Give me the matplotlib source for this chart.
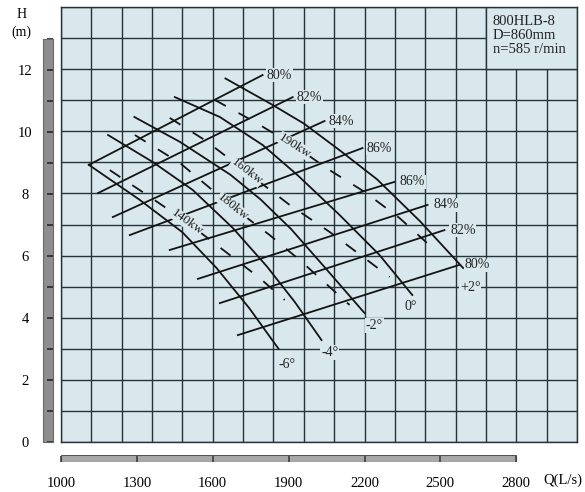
import math
import matplotlib
matplotlib.use('Agg')
import matplotlib.pyplot as plt
from matplotlib.patches import Rectangle

plt.rcParams['font.family'] = ['Liberation Serif', 'DejaVu Serif']

# axis scales
q_ticks = [1000, 1300, 1600, 1900, 2200, 2500, 2800]
h_ticks = [0, 2, 4, 6, 8, 10, 12]
h_minor = list(range(0, 14))
q_grid = list(range(1000, 3041, 120))
h_grid = list(range(0, 15))

# H-Q curves for each blade angle
hq_q_m6 = [1110, 1310, 1480, 1615, 1745, 1860]
hq_h_m6 = [8.92, 7.8, 6.75, 5.6, 4.3, 3.0]
hq_q_m4 = [1186, 1363, 1521, 1679, 1813, 1924, 2030]
hq_h_m4 = [9.88, 9.01, 8.11, 6.89, 5.66, 4.51, 3.28]
hq_q_m2 = [1290, 1470, 1670, 1790, 1910, 2045, 2200]
hq_h_m2 = [10.46, 9.66, 8.6, 7.8, 6.85, 5.6, 4.15]
hq_q_0 = [1450, 1628, 1797, 1935, 2101, 2259, 2389]
hq_h_0 = [11.10, 10.46, 9.56, 8.59, 7.31, 6.02, 4.73]
hq_q_p2 = [1650, 1830, 1960, 2100, 2250, 2420, 2590]
hq_h_p2 = [11.7, 10.88, 10.25, 9.4, 8.45, 7.1, 5.6]
angle_labels = ['-6°', '-4°', '-2°', '0°', '+2°']

# efficiency lines
eff_up_labels = ['80%', '82%', '84%', '86%']
eff_up_q0 = [1110, 1146, 1205, 1272]
eff_up_h0 = [8.92, 8.01, 7.24, 6.66]
eff_up_q1 = [1797, 1916, 2042, 2192]
eff_up_h1 = [11.81, 11.10, 10.33, 9.46]
eff_lo_labels = ['86%', '84%', '82%', '80%']
eff_lo_q0 = [1430, 1541, 1628, 1699]
eff_lo_h0 = [6.18, 5.25, 4.47, 3.44]
eff_lo_q1 = [2318, 2449, 2516, 2575]
eff_lo_h1 = [8.37, 7.63, 6.82, 5.70]

# shaft power curves (dashed)
pw_q_140 = [1193, 1351, 1497, 1667, 1785, 1884]
pw_h_140 = [8.75, 7.89, 7.08, 6.02, 5.28, 4.57]
pw_q_180 = [1292, 1470, 1679, 1825, 1943, 2062, 2141]
pw_h_180 = [9.88, 8.98, 7.56, 6.66, 5.86, 4.99, 4.41]
pw_q_160 = [1430, 1568, 1734, 1904, 2062, 2200, 2299]
pw_h_160 = [10.43, 9.72, 8.69, 7.63, 6.76, 5.92, 5.31]
pw_q_190 = [1608, 1766, 1924, 2062, 2200, 2338, 2456]
pw_h_190 = [11.01, 10.30, 9.53, 8.75, 8.05, 7.21, 6.34]
pw_labels = ['140kw', '180kw', '160kw', '190kw']

info_text = '800HLB-8\nD=860mm\nn=585 r/min'

bg = '#d9e8ec'
gridc = '#26343a'
ink = '#141414'

W, H = 585, 492


def box(x0, y0, x1, y1):
    return [x0 / W, 1 - y1 / H, (x1 - x0) / W, (y1 - y0) / H]


fig = plt.figure(figsize=(W / 100, H / 100), dpi=100)

# main chart
ax = fig.add_axes(box(61, 7, 577, 442))
ax.set_xlim(q_grid[0], q_grid[-1])
ax.set_ylim(h_grid[0], h_grid[-1])
ax.set_facecolor(bg)
ax.set_xticks(q_grid)
ax.set_yticks(h_grid)
ax.tick_params(length=0, labelbottom=False, labelleft=False)
ax.grid(True, color=gridc, lw=1.0)
for s in ax.spines.values():
    s.set_color(gridc)
    s.set_linewidth(1.0)

# info box in the corner (grid erased)
ax.add_patch(Rectangle((q_grid[-4], h_grid[-3]), q_grid[-1] - q_grid[-4],
                       h_grid[-1] - h_grid[-3], fc=bg, ec=gridc, lw=1.0,
                       zorder=1.8))
ax.text(0.837, 0.982, info_text, transform=ax.transAxes, ha='left', va='top',
        fontsize=10.5, linespacing=1.1, color='#222222', zorder=4)

lab_box = dict(fc=bg, ec='none', pad=0.6)

hq_curves = [(hq_q_m6, hq_h_m6), (hq_q_m4, hq_h_m4), (hq_q_m2, hq_h_m2),
             (hq_q_0, hq_h_0), (hq_q_p2, hq_h_p2)]
angle_offsets = [(6, -11), (6, -9), (7, -9), (-1, -8), (5, -14)]
for (qs, hs), lab, off in zip(hq_curves, angle_labels, angle_offsets):
    ax.plot(qs, hs, color=ink, lw=1.3, zorder=3)
    ax.annotate(lab, (qs[-1], hs[-1]), xytext=off, textcoords='offset points',
                ha='center', va='center', fontsize=10, color='#222222',
                bbox=lab_box, zorder=4)

for q0, h0, q1, h1, lab in zip(eff_up_q0, eff_up_h0, eff_up_q1, eff_up_h1,
                               eff_up_labels):
    ax.plot([q0, q1], [h0, h1], color=ink, lw=1.3, zorder=3)
    ax.annotate(lab, (q1, h1), xytext=(3, 0), textcoords='offset points',
                ha='left', va='center', fontsize=10, color='#222222',
                bbox=lab_box, zorder=4)

for q0, h0, q1, h1, lab in zip(eff_lo_q0, eff_lo_h0, eff_lo_q1, eff_lo_h1,
                               eff_lo_labels):
    ax.plot([q0, q1], [h0, h1], color=ink, lw=1.3, zorder=3)
    ax.annotate(lab, (q1, h1), xytext=(4, 0), textcoords='offset points',
                ha='left', va='center', fontsize=10, color='#222222',
                bbox=lab_box, zorder=4)

pw_curves = [(pw_q_140, pw_h_140), (pw_q_180, pw_h_180),
             (pw_q_160, pw_h_160), (pw_q_190, pw_h_190)]
for (qs, hs), lab in zip(pw_curves, pw_labels):
    ax.plot(qs, hs, color=ink, lw=1.3, ls=(0, (7, 8)), zorder=3)
    i = 2
    p = ax.transData.transform([(qs[i - 1], hs[i - 1]), (qs[i + 1], hs[i + 1])])
    ang = math.degrees(math.atan2(p[1][1] - p[0][1], p[1][0] - p[0][0]))
    ax.text(qs[i], hs[i], lab, rotation=ang, rotation_mode='anchor',
            ha='center', va='center', fontsize=9.5, color='#222222',
            bbox=dict(fc=bg, ec='none', pad=0.2), zorder=4)

# H scale bar on the left
ax_y = fig.add_axes(box(43, 39, 53, 442))
ax_y.set_ylim(h_minor[0], h_minor[-1])
ax_y.set_xlim(0, 1)
ax_y.set_facecolor('#8e8e8e')
for s in ax_y.spines.values():
    s.set_color('#6a6a6a')
    s.set_linewidth(0.8)
ax_y.set_xticks([])
ax_y.set_yticks(h_ticks)
ax_y.set_yticks(h_minor, minor=True)
ax_y.tick_params(which='both', left=False, right=True, direction='in',
                 length=4, width=1.3, color='#303030', labelsize=10.5,
                 pad=13)
for t in ax_y.get_yticklabels():
    t.set_horizontalalignment('center')
fig.text(22 / W, 1 - 15 / H, 'H', ha='center', va='center', fontsize=10)
fig.text(21 / W, 1 - 32 / H, '(m)', ha='center', va='center', fontsize=10)

# Q scale bar at the bottom
ax_x = fig.add_axes(box(61, 455, 577, 462))
ax_x.set_xlim(q_grid[0], q_grid[-1])
ax_x.set_ylim(0, 1)
ax_x.axvspan(q_ticks[0], q_ticks[-1], fc='#a8a8a8', ec='#555555', lw=0.8)
for s in ax_x.spines.values():
    s.set_visible(False)
ax_x.set_yticks([])
ax_x.set_xticks(q_ticks)
ax_x.tick_params(direction='in', length=4, width=1.2, color='#404040',
                 labelsize=10.5, pad=11)
fig.text(563 / W, 1 - 480 / H, 'Q(L/s)', ha='center', va='center',
         fontsize=10.5)

fig.savefig('out.png', dpi=100, facecolor='white')
